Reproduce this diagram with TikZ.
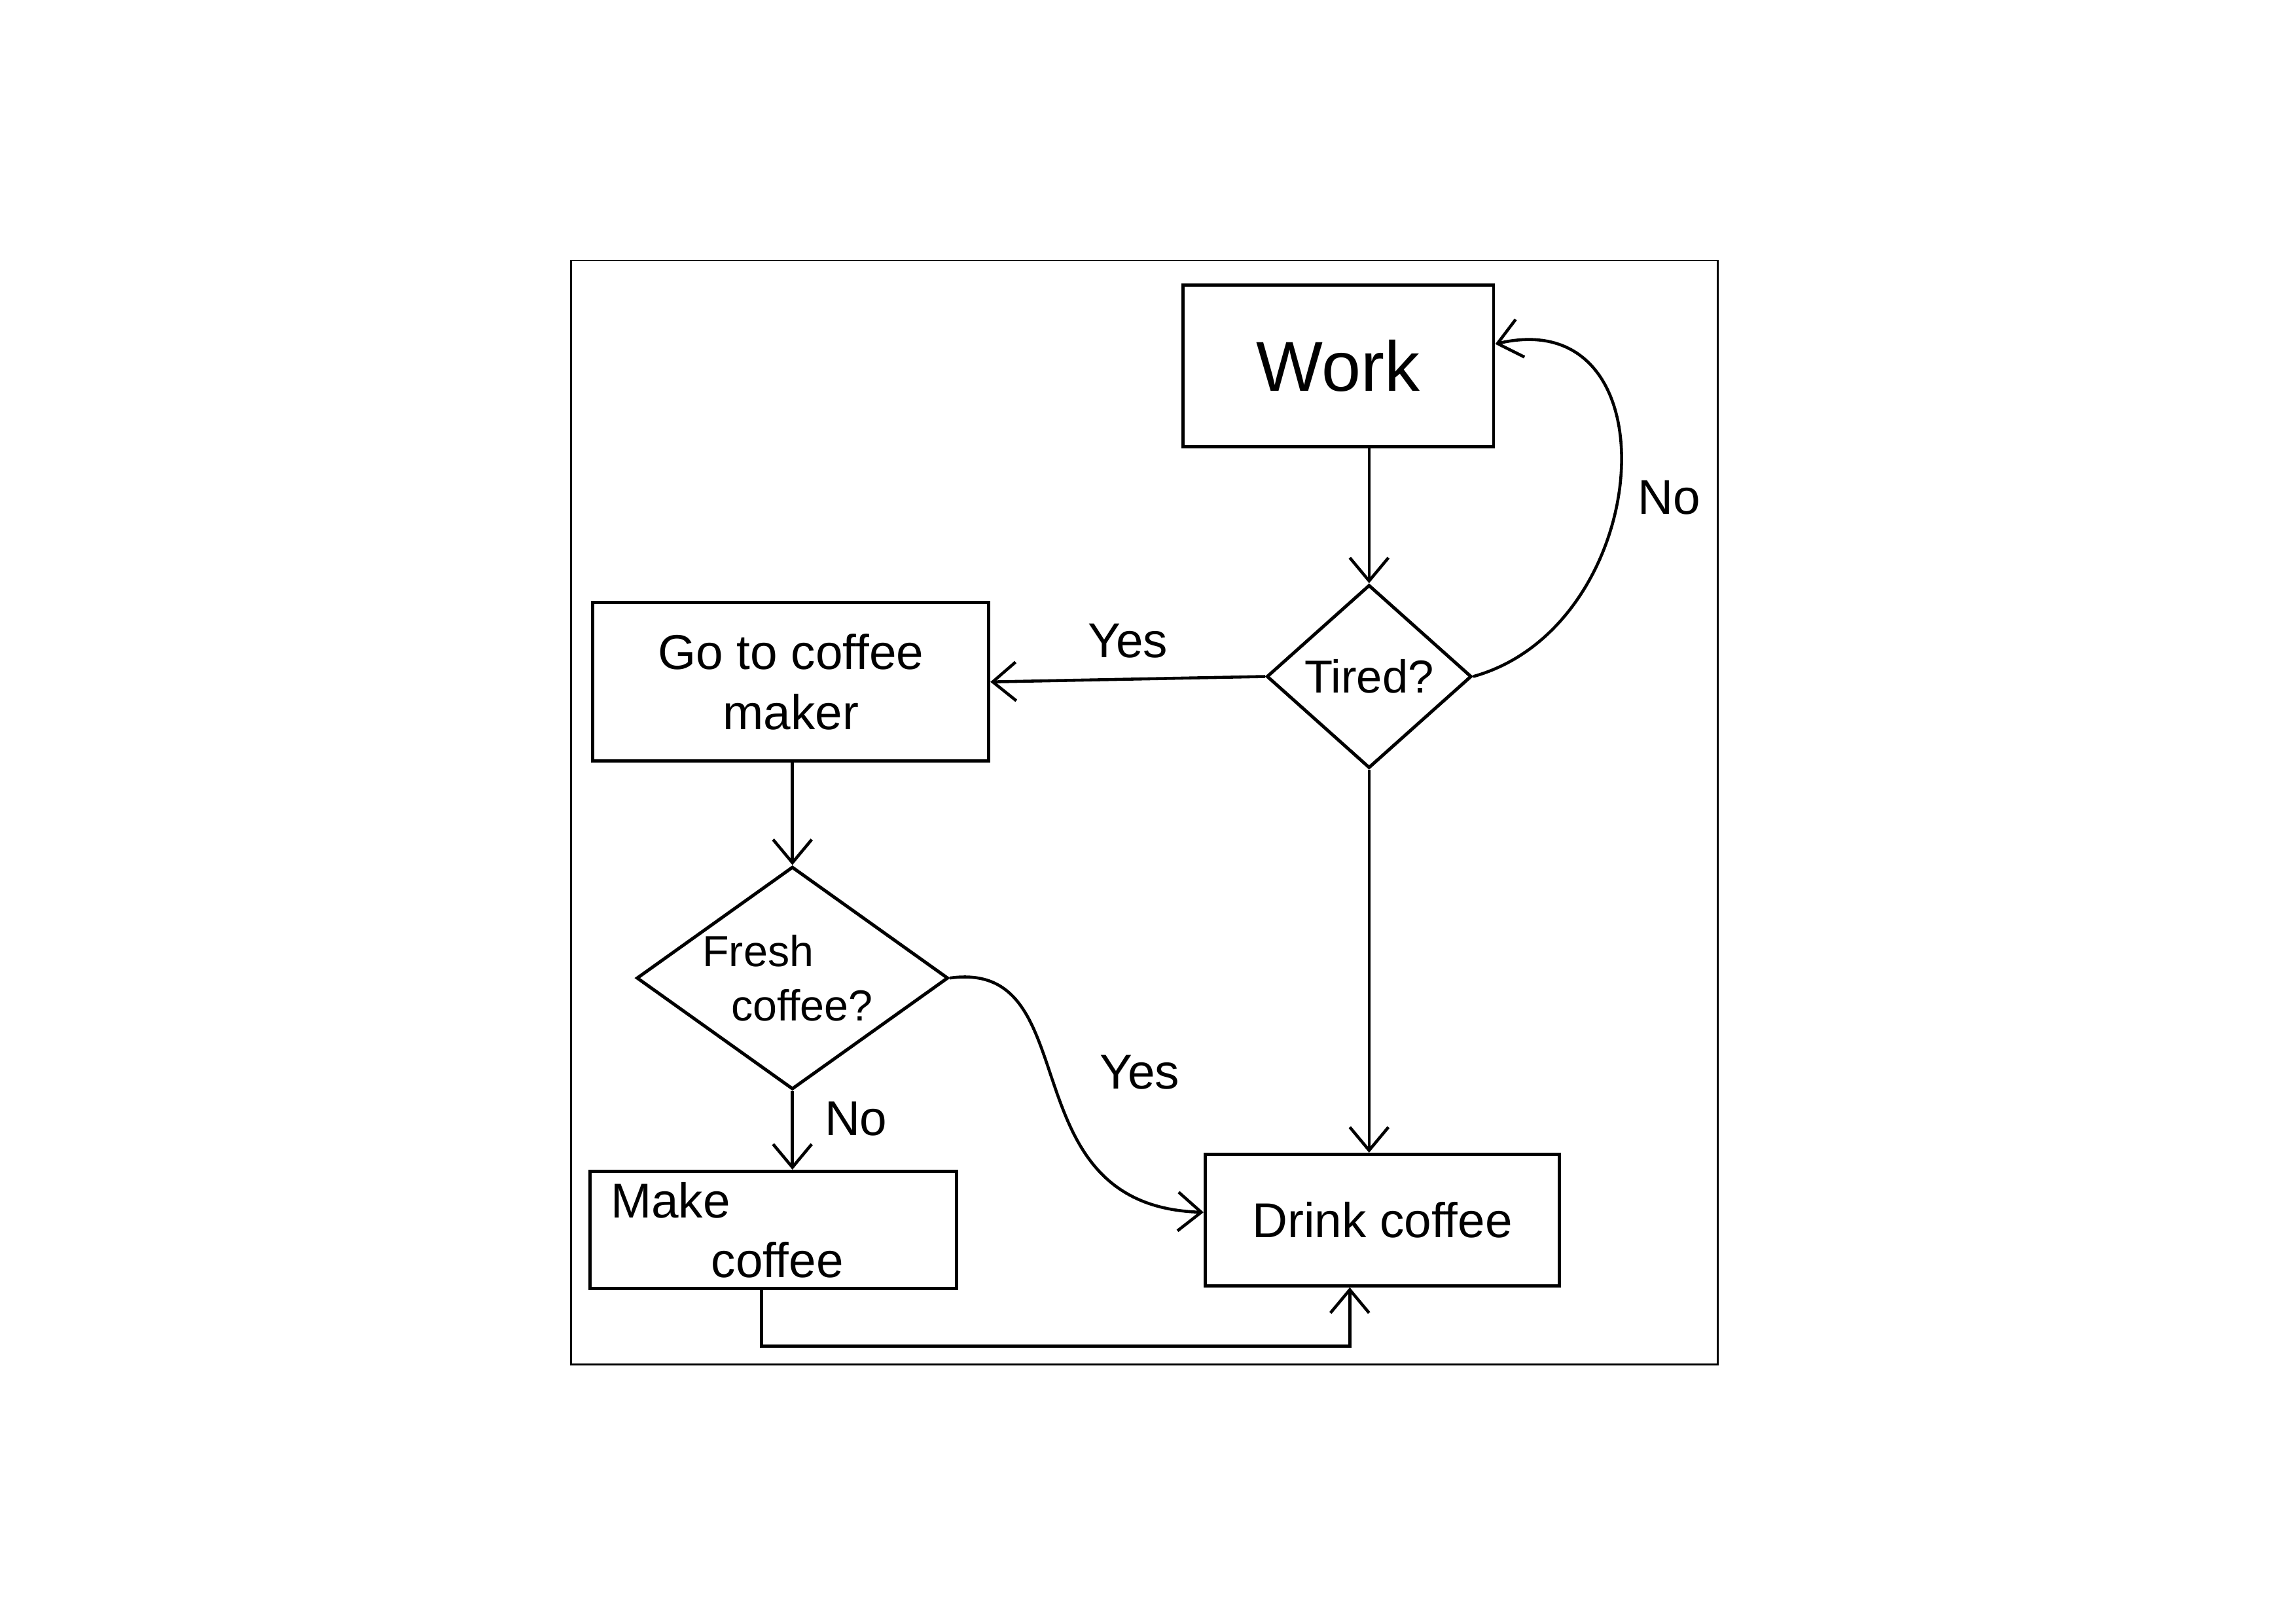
\documentclass[tikz,border=0pt]{standalone}
\usepackage{fontspec}
\setmainfont{Liberation Sans}
\usetikzlibrary{shapes.geometric,arrows.meta}

\tikzset{
    box/.style={draw, line width=1.2pt, rectangle, font=\fontsize{18}{22}\selectfont},
    decision/.style={draw, line width=1.2pt, diamond, inner sep=0pt, font=\fontsize{17}{21}\selectfont},
    arr/.style={line width=1.1pt, -{Straight Barb[length=3mm,width=5mm]}},
    lbl/.style={font=\fontsize{18}{22}\selectfont}
}

\begin{document}
\begin{tikzpicture}
    \useasboundingbox (0,0) rectangle (29.7,21);

    %Outer frame
    \draw[line width=0.7pt] (7.39,3.35) rectangle (22.22,17.63);

    %Steps
    \node[box, minimum width=4.02cm, minimum height=2.09cm, font=\fontsize{26}{30}\selectfont] (work) at (17.31,16.27) {Work};
    \node[decision, minimum width=2.65cm, minimum height=2.37cm, aspect=1.1] (tired) at (17.71,12.25) {Tired?};
    \node[box, minimum width=5.12cm, minimum height=2.05cm, align=center] (gomaker) at (10.23,12.18) {Go to coffee\\maker};
    \node[decision, minimum width=4.03cm, minimum height=2.88cm, aspect=1.4, inner sep=-6pt, align=left, font=\fontsize{16}{20}\selectfont] (fresh) at (10.25,8.35) {\hspace*{0.18cm}Fresh\\\hspace*{0.55cm}coffee?\hspace*{0.3cm}};
    \node[box, minimum width=4.74cm, minimum height=1.52cm, text width=4.2cm, align=left] (make) at (10.0,5.09) {Make\\\hspace{1.3cm}coffee};
    \node[box, minimum width=4.58cm, minimum height=1.70cm] (drink) at (17.88,5.22) {Drink coffee};

    %Main line
    \draw[arr] (work.south -| tired.north) -- (tired.north);
    \draw[arr] (tired.west) -- (gomaker.east) node[lbl, midway, above=4pt] {Yes};
    \draw[arr] (tired.east) .. controls (21.4,12.9) and (21.7,17.1) .. ([yshift=0.28cm]work.east);
    \node[lbl] (nolbl) at (21.59,14.56) {No};
    \draw[arr] (tired.south) -- (tired.south |- drink.north);

    %Coffee branch
    \draw[arr] (gomaker.south -| fresh.north) -- (fresh.north);
    \draw[arr] (fresh.south) -- (fresh.south |- make.north) node[lbl, pos=0.35, right=8pt] {No};
    \draw[arr] (fresh.east) .. controls (14.1,8.6) and (13.0,5.4) .. ([yshift=0.1cm]drink.west);
    \node[lbl] (yeslbl) at (14.74,7.13) {Yes};
    \draw[arr] ([xshift=-0.15cm]make.south) -- ++(0,-0.72) -| ([xshift=-0.42cm]drink.south);

\end{tikzpicture}
\end{document}
